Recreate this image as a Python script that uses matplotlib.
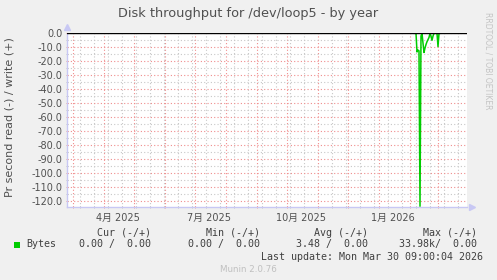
import numpy as np
import matplotlib
matplotlib.use("Agg")
import matplotlib.pyplot as plt
import matplotlib.dates as mdates
from matplotlib.ticker import MultipleLocator, NullFormatter, FixedLocator
from datetime import datetime, timedelta

plt.rcParams['font.family'] = ['DejaVu Sans', 'Noto Sans CJK SC']

# data: read throughput (days before last update, value), negative = read
last_update = datetime(2026, 3, 30, 9, 0, 4)
day_offsets = [-53, -52, -51, -50, -49, -48, -47, -46, -45, -44, -43, -42, -41,
               -40, -39, -38, -37, -36, -35, -34, -33, -32, -31, -30, -29, -28, -27]
read_vals = [0, 0, 0, -13.3, -12.0, -12.5, -123.5, -2.0, 0, -7.0, -13.7, -10.5, -8.0,
             -6.0, -4.5, -3.0, 0, -2.0, -5.0, -2.0, 0, 0, 0, 0, -9.5, 0, 0]

month_labels = ["4月 2025", "7月 2025", "10月 2025", "1月 2026"]
label_dates = [datetime(2025, 4, 15), datetime(2025, 7, 15), datetime(2025, 10, 15), datetime(2026, 1, 15)]

legend_cols = ["Cur (-/+)", "Min (-/+)", "Avg (-/+)", "Max (-/+)"]
legend_vals = ["0.00 /  0.00", "0.00 /  0.00", "3.48 /  0.00", "33.98k/  0.00"]

W, H = 497, 280
fig = plt.figure(figsize=(W / 100, H / 100), dpi=100, facecolor='#f0f0f0')
ax = fig.add_axes([67 / W, 1 - 207 / H, 400 / W, 173.7 / H])
ax.set_facecolor('white')

t = [last_update + timedelta(days=d) for d in day_offsets]
ax.plot(t, read_vals, color='#00cc00', lw=1.1, zorder=3)
ax.axhline(0, color='black', lw=1.0, zorder=4)

# grid
ax.xaxis.set_major_locator(mdates.MonthLocator())
ax.xaxis.set_major_formatter(NullFormatter())
minor_days = [datetime(2025, 3, 8) + timedelta(days=14 * k) for k in range(29)]
ax.xaxis.set_minor_locator(FixedLocator(mdates.date2num(minor_days)))
ax.yaxis.set_major_locator(MultipleLocator(10))
ax.yaxis.set_minor_locator(MultipleLocator(5))
ax.yaxis.set_major_formatter(plt.FuncFormatter(lambda v, p: "%.1f" % v if abs(v) > 1e-9 else "0.0"))

ax.set_xlim(last_update - timedelta(days=400), last_update)
ax.set_ylim(-124.07, 0)

ax.grid(which='minor', color='#c8c8c8', lw=0.8, linestyle=(0, (1, 2)), zorder=1)
ax.grid(which='major', color='#f08c8c', lw=0.8, linestyle=(0, (1, 2)), zorder=2)
ax.tick_params(which='major', length=2, width=0.6, color='#f08080', direction='inout',
               labelsize=7, labelcolor='#505050', pad=2)
ax.tick_params(which='minor', length=2, width=0.6, color='#bbbbbb', direction='inout')

for s in ['top', 'right']:
    ax.spines[s].set_visible(False)
for s in ['left', 'bottom']:
    ax.spines[s].set_color('#c8c8f4')
    ax.spines[s].set_linewidth(1.0)
ax.plot([0], [1.035], marker='^', ms=4, color='#c8c8f4', transform=ax.transAxes, clip_on=False)
ax.plot([1.012], [0], marker='>', ms=4, color='#c8c8f4', transform=ax.transAxes, clip_on=False)

for d, lab in zip(label_dates, month_labels):
    ax.text(d, -0.063, lab, transform=ax.get_xaxis_transform(), ha='center', va='center',
            fontsize=7, color='#505050')

# text around
fig.text(248 / W, 1 - 14 / H, "Disk throughput for /dev/loop5 - by year", ha='center', va='center',
         fontsize=9.3, color='#505050')
fig.text(10 / W, 1 - 117.5 / H, "Pr second read (-) / write (+)", rotation=90, ha='center', va='center',
         fontsize=8, color='#505050')
fig.text(488 / W, 1 - 12 / H, "RRDTOOL / TOBI OETIKER", rotation=270, ha='center', va='top',
         fontsize=5.5, color='#c4c4c4')

mono = dict(family='DejaVu Sans Mono', fontsize=7.2, color='#404040', va='center')
col_right = [151, 260, 368.3, 476.7]
for x, c in zip(col_right, legend_cols):
    fig.text(x / W, 1 - 232.7 / H, c, ha='right', **mono)
for x, v in zip(col_right, legend_vals):
    fig.text(x / W, 1 - 244.3 / H, v, ha='right', **mono)
fig.text(26.7 / W, 1 - 244.3 / H, "Bytes", ha='left', **mono)
fig.patches.append(plt.Rectangle((14 / W, 1 - 247.5 / H), 6 / W, 6 / H, transform=fig.transFigure,
                                 facecolor='#00cc00', edgecolor='none'))
fig.text(482.7 / W, 1 - 256.7 / H, "Last update: Mon Mar 30 09:00:04 2026", ha='right', **mono)
fig.text(248.8 / W, 1 - 269 / H, "Munin 2.0.76", ha='center', va='center', fontsize=6.3,
         color='#c0c0c0', family='DejaVu Sans')

fig.savefig("out.png", dpi=100, facecolor=fig.get_facecolor())
